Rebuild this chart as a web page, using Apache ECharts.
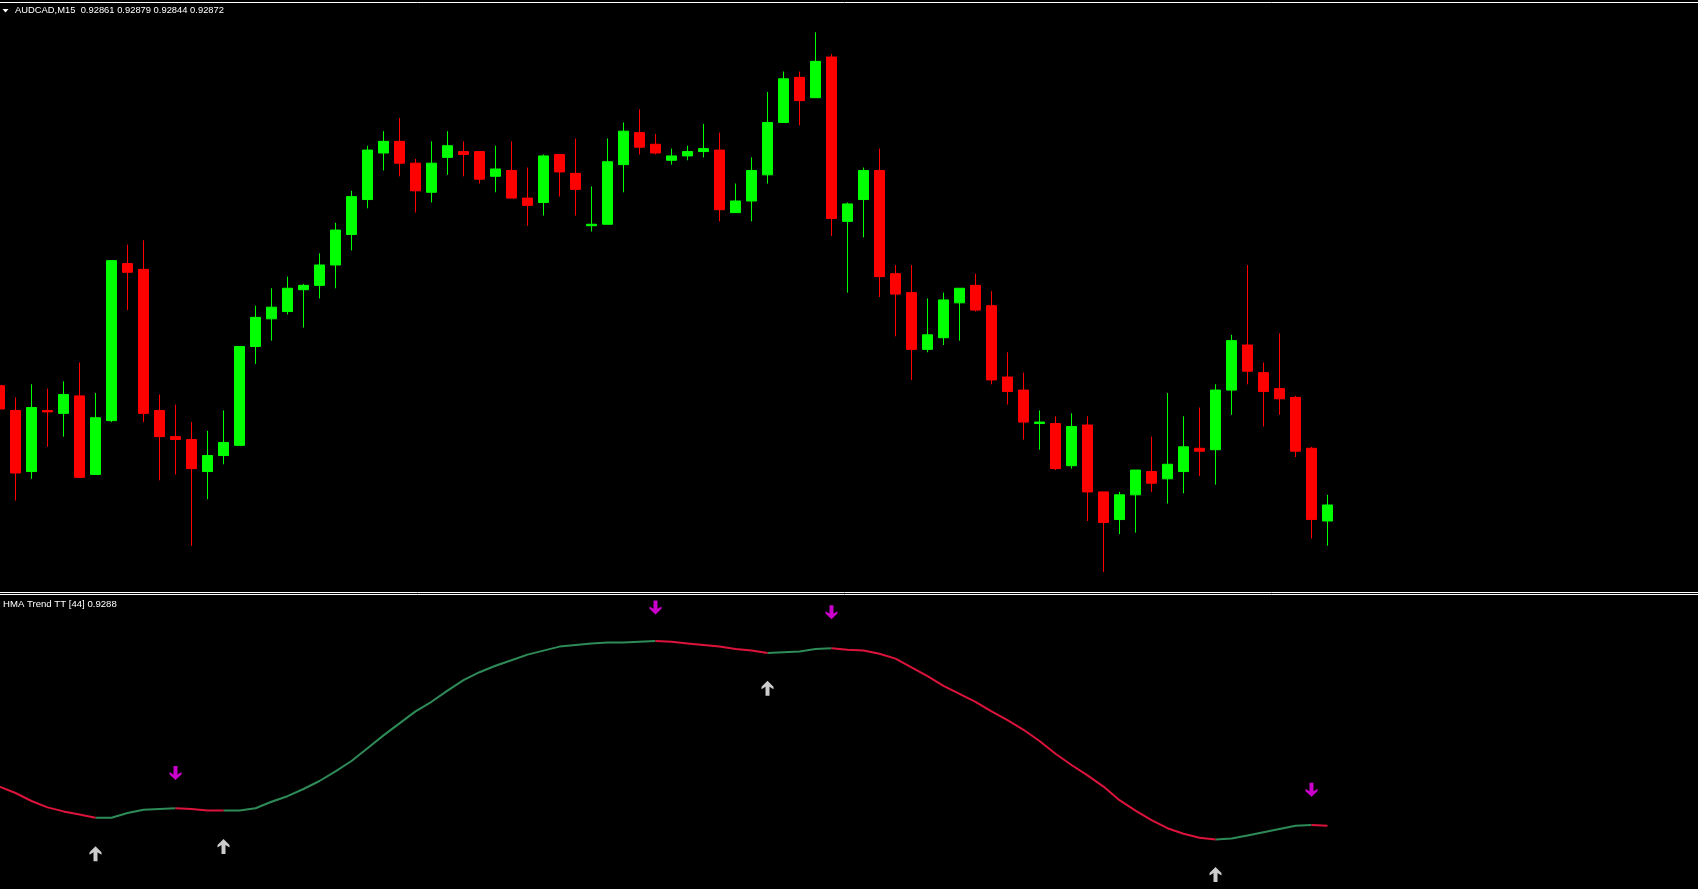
<!DOCTYPE html>
<html>
<head>
<meta charset="utf-8">
<script src="https://cdn.jsdelivr.net/npm/echarts@6/dist/echarts.min.js"></script>
<style>
  html, body { margin: 0; padding: 0; background: #000; overflow: hidden; width: 1698px; height: 889px; position: relative; }
  #chart { position: absolute; left: -9px; top: 0; width: 1707px; height: 889px; }
</style>
</head>
<body>
<div id="chart"></div>
<script>
// ---- Data (AUDCAD M15), bars from oldest (partly visible) to newest ----
const opens = [0.92954,0.92937,0.92895,0.92937,0.92935,0.92947,0.92893,0.92930,0.93038,0.93034,
0.92937,0.92919,0.92917,0.92895,0.92906,0.92913,0.92981,0.93000,0.93005,0.93020,
0.93023,0.93037,0.93058,0.93082,0.93114,0.93122,0.93107,0.93087,0.93111,0.93115,
0.93115,0.93098,0.93102,0.93083,0.93080,0.93113,0.93100,0.93064,0.93065,0.93106,
0.93128,0.93120,0.93109,0.93112,0.93115,0.93116,0.93073,0.93081,0.93099,0.93135,
0.93166,0.93152,0.93180,0.93067,0.93082,0.93102,0.93031,0.93018,0.92979,0.92987,
0.93011,0.93023,0.93009,0.92960,0.92951,0.92928,0.92928,0.92899,0.92927,0.92881,
0.92862,0.92879,0.92895,0.92890,0.92895,0.92911,0.92910,0.92951,0.92982,0.92963,
0.92952,0.92946,0.92911,0.92861];
const highs = [0.92956,0.92946,0.92955,0.92952,0.92957,0.92970,0.92949,0.93040,0.93051,0.93054,
0.92948,0.92941,0.92929,0.92923,0.92937,0.92981,0.93009,0.93021,0.93029,0.93024,
0.93045,0.93066,0.93088,0.93119,0.93129,0.93138,0.93110,0.93122,0.93129,0.93122,
0.93115,0.93119,0.93122,0.93104,0.93113,0.93113,0.93124,0.93091,0.93124,0.93135,
0.93144,0.93127,0.93117,0.93119,0.93134,0.93128,0.93093,0.93111,0.93156,0.93170,
0.93170,0.93197,0.93182,0.93080,0.93104,0.93117,0.93037,0.93037,0.93014,0.93018,
0.93021,0.93031,0.93019,0.92977,0.92963,0.92937,0.92933,0.92935,0.92933,0.92881,
0.92881,0.92896,0.92919,0.92949,0.92933,0.92939,0.92955,0.92989,0.93037,0.92970,
0.92990,0.92947,0.92912,0.92879];
const lows = [0.92936,0.92875,0.92890,0.92912,0.92919,0.92891,0.92893,0.92929,0.93006,0.92929,
0.92889,0.92893,0.92844,0.92876,0.92900,0.92913,0.92969,0.92985,0.93003,0.92994,
0.93014,0.93021,0.93047,0.93076,0.93102,0.93098,0.93073,0.93080,0.93099,0.93098,
0.93093,0.93087,0.93083,0.93064,0.93071,0.93084,0.93071,0.93060,0.93065,0.93087,
0.93113,0.93113,0.93106,0.93109,0.93111,0.93067,0.93073,0.93067,0.93093,0.93135,
0.93133,0.93152,0.93057,0.93018,0.93056,0.93015,0.92988,0.92958,0.92977,0.92982,
0.92985,0.93005,0.92955,0.92941,0.92917,0.92910,0.92896,0.92897,0.92861,0.92826,
0.92852,0.92853,0.92881,0.92873,0.92880,0.92892,0.92886,0.92934,0.92955,0.92926,
0.92934,0.92905,0.92849,0.92844];
const closes = [0.92938,0.92894,0.92939,0.92936,0.92948,0.92891,0.92932,0.93040,0.93032,0.92935,
0.92919,0.92917,0.92897,0.92906,0.92915,0.92981,0.93001,0.93008,0.93021,0.93023,
0.93037,0.93061,0.93084,0.93116,0.93122,0.93107,0.93088,0.93107,0.93119,0.93113,
0.93096,0.93103,0.93083,0.93078,0.93112,0.93101,0.93089,0.93065,0.93108,0.93129,
0.93118,0.93114,0.93112,0.93115,0.93117,0.93075,0.93081,0.93102,0.93135,0.93165,
0.93150,0.93177,0.93069,0.93079,0.93102,0.93029,0.93017,0.92979,0.92989,0.93013,
0.93021,0.93006,0.92958,0.92950,0.92929,0.92929,0.92897,0.92926,0.92881,0.92860,
0.92879,0.92896,0.92887,0.92900,0.92912,0.92909,0.92951,0.92985,0.92964,0.92950,
0.92945,0.92909,0.92862,0.92872];

// HMA Trend TT (44) indicator values per bar
const hma = [0.92928,0.92920,0.92910,0.92902,0.92897,0.92893,0.92889,0.92889,0.92895,0.92899,
0.92900,0.92901,0.92900,0.92898,0.92898,0.92898,0.92901,0.92909,0.92916,0.92925,
0.92935,0.92947,0.92960,0.92976,0.92992,0.93007,0.93022,0.93034,0.93048,0.93061,
0.93071,0.93079,0.93086,0.93093,0.93098,0.93103,0.93105,0.93107,0.93108,0.93108,
0.93109,0.93110,0.93109,0.93107,0.93105,0.93103,0.93100,0.93098,0.93095,0.93096,
0.93097,0.93100,0.93101,0.93099,0.93098,0.93094,0.93088,0.93077,0.93066,0.93054,
0.93044,0.93034,0.93022,0.93011,0.92999,0.92985,0.92969,0.92955,0.92942,0.92928,
0.92911,0.92898,0.92886,0.92876,0.92869,0.92864,0.92862,0.92863,0.92867,0.92871,
0.92875,0.92879,0.92880,0.92879];
// trend of the segment ending at each bar: 1 = up (green), -1 = down (red)
const trend = [-1,-1,-1,-1,-1,-1,-1, 1,1,1,1,1, -1,-1,-1,
1,1,1,1,1,1,1,1,1,1,1,1,1,1,1,1,1,1,1,1,1,1,1,1,1,1,1,
-1,-1,-1,-1,-1,-1,-1, 1,1,1,1,
-1,-1,-1,-1,-1,-1,-1,-1,-1,-1,-1,-1,-1,-1,-1,-1,-1,-1,-1,-1,-1,-1,-1,-1,
1,1,1,1,1,1, -1];
// signal arrows (bar index, price level)
const buyArrowBars = [6, 14, 48, 76];
const buyArrowPrices = [0.92844, 0.92853, 0.93051, 0.92818];
const sellArrowBars = [11, 41, 52, 82];
const sellArrowPrices = [0.92945, 0.93152, 0.93146, 0.92924];

const headerText = 'AUDCAD,M15  0.92861 0.92879 0.92844 0.92872';
const indicatorText = 'HMA Trend TT [44] 0.9288';

// ---- build ----
const categories = opens.map((_, i) => String(i));
const candles = opens.map((o, i) => [o, closes[i], lows[i], highs[i]]);
const upLine = hma.map((v, i) => (trend[i] === 1 || trend[i + 1] === 1) ? v : null);
const downLine = hma.map((v, i) => (trend[i] === -1 || trend[i + 1] === -1) ? v : null);
const buyPts = buyArrowBars.map((b, i) => [b, buyArrowPrices[i]]);
const sellPts = sellArrowBars.map((b, i) => [b, sellArrowPrices[i]]);

const upArrowPath = 'path://M6,0 L12,6 L12,8.5 L8,6 L8,15 L4,15 L4,6 L0,8.5 L0,6 Z';
const downArrowPath = 'path://M6,15 L12,9 L12,6.5 L8,9 L8,0 L4,0 L4,9 L0,6.5 L0,9 Z';

const OX = 9; // container is shifted left by OX px
const chart = echarts.init(document.getElementById('chart'), null, { renderer: 'canvas' });
const fontFam = '"Liberation Sans", Arial, sans-serif';
chart.setOption({
  backgroundColor: '#000000',
  animation: false,
  grid: [
    { left: 0.5, width: 1344, top: 5, height: 585 },
    { left: 0.5, width: 1344, top: 596, height: 291 }
  ],
  xAxis: [
    { type: 'category', gridIndex: 0, data: categories, boundaryGap: true, show: false },
    { type: 'category', gridIndex: 1, data: categories, boundaryGap: true, show: false }
  ],
  yAxis: [
    { type: 'value', gridIndex: 0, min: 0.928135625, max: 0.9321575, show: false, splitLine: { show: false } },
    { type: 'value', gridIndex: 1, min: 0.928025, max: 0.9316625, show: false, splitLine: { show: false } }
  ],
  series: [
    {
      type: 'candlestick', xAxisIndex: 0, yAxisIndex: 0, data: candles,
      barWidth: 10,
      itemStyle: {
        color: '#00FF00', color0: '#FF0000',
        borderColor: '#00FF00', borderColor0: '#FF0000',
        borderWidth: 1
      }
    },
    {
      type: 'line', xAxisIndex: 1, yAxisIndex: 1, data: upLine, showSymbol: false,
      connectNulls: false, lineStyle: { color: '#2E8B57', width: 2 }
    },
    {
      type: 'line', xAxisIndex: 1, yAxisIndex: 1, data: downLine, showSymbol: false,
      connectNulls: false, lineStyle: { color: '#DC143C', width: 2 }
    },
    {
      type: 'scatter', xAxisIndex: 1, yAxisIndex: 1, data: buyPts,
      symbol: upArrowPath, symbolSize: [12, 15], itemStyle: { color: '#FFFFFF' }
    },
    {
      type: 'scatter', xAxisIndex: 1, yAxisIndex: 1, data: sellPts,
      symbol: downArrowPath, symbolSize: [12, 14], itemStyle: { color: '#FF00FF' }
    }
  ],
  graphic: [
    { type: 'line', shape: { x1: 0, y1: 2.5, x2: 1698 + OX, y2: 2.5 }, style: { stroke: '#FFFFFF', lineWidth: 1 } },
    { type: 'line', shape: { x1: 0, y1: 592.5, x2: 1698 + OX, y2: 592.5 }, style: { stroke: '#FFFFFF', lineWidth: 1 } },
    { type: 'line', shape: { x1: 0, y1: 594.5, x2: 1698 + OX, y2: 594.5 }, style: { stroke: '#FFFFFF', lineWidth: 1 } },
    { type: 'polygon', shape: { points: [[2.5 + OX, 9], [8.5 + OX, 9], [5.5 + OX, 12.5]] }, style: { fill: '#FFFFFF' } },
    { type: 'text', left: 15 + OX, top: 6, style: { text: headerText, fill: '#FFFFFF', font: '9.4px ' + fontFam } },
    { type: 'text', left: 3 + OX, top: 599, style: { text: indicatorText, fill: '#FFFFFF', font: '9.6px ' + fontFam } }
  ]
});
</script>
</body>
</html>
